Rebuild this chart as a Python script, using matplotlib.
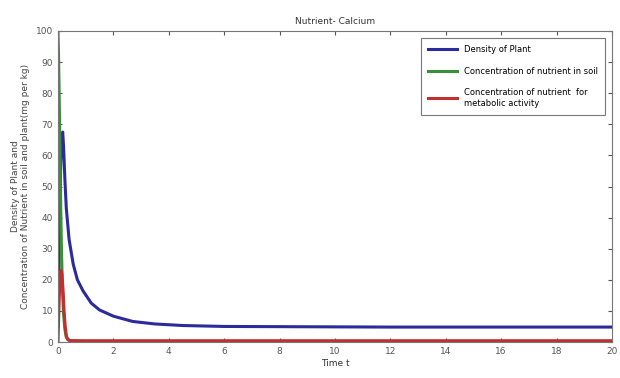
import matplotlib
matplotlib.use("Agg")
import matplotlib.pyplot as plt

# Density of plant
t_plant = [0, 0.03, 0.06, 0.1, 0.14, 0.17, 0.2, 0.25, 0.3, 0.4, 0.55, 0.7, 0.9, 1.2, 1.5, 2.0, 2.7, 3.5, 4.5, 6, 9, 12, 16, 20]
plant = [5, 22, 40, 58, 66, 67.5, 63, 52, 43, 33, 25, 20, 16.5, 12.5, 10.3, 8.3, 6.6, 5.8, 5.3, 5.0, 4.9, 4.8, 4.8, 4.8]

# Concentration of nutrient in soil
t_soil = [0, 0.02, 0.05, 0.08, 0.1, 0.13, 0.16, 0.2, 0.25, 0.3, 0.4, 1, 20]
soil = [100, 92, 75, 55, 42, 28, 17, 9, 4, 1.5, 0.5, 0.2, 0.2]

# Concentration of nutrient for metabolic activity
t_met = [0, 0.03, 0.06, 0.1, 0.14, 0.18, 0.22, 0.26, 0.3, 0.35, 0.45, 1, 20]
met = [0, 10, 18, 23, 22, 17, 10, 5, 2, 0.8, 0.4, 0.4, 0.4]

labels = ["Density of Plant", "Concentration of nutrient in soil",
          "Concentration of nutrient  for\nmetabolic activity"]
xticks = list(range(0, 21, 2))
yticks = list(range(0, 101, 10))

fig = plt.figure(figsize=(6.2, 3.78), dpi=100)
ax = fig.add_axes([58/620, 1-342/378, (612-58)/620, (342-31)/378])

ax.plot(t_plant, plant, color="#2b2b9c", lw=2.2, label=labels[0])
ax.plot(t_soil, soil, color="#3a8f3a", lw=2.2, label=labels[1])
ax.plot(t_met, met, color="#c0302e", lw=2.2, label=labels[2])

ax.set_xlim(0, 20)
ax.set_ylim(0, 100)
ax.set_xticks(xticks)
ax.set_yticks(yticks)
ax.tick_params(direction="in", top=True, right=True, labelsize=6.5, length=3, colors="#555555")
for s in ax.spines.values():
    s.set_color("#777777")
ax.set_title("Nutrient- Calcium", fontsize=6.5, color="#333333", pad=5)
ax.set_xlabel("Time t", fontsize=6.5, color="#333333", labelpad=2)
ax.set_ylabel("Density of Plant and\nConcentration of Nutrient in soil and plant(mg per kg)",
              fontsize=6.5, color="#444444", labelpad=4)
leg = ax.legend(loc="upper right", fontsize=6, frameon=True, fancybox=False,
                edgecolor="#555555", handlelength=3.5, borderaxespad=0.8,
                labelspacing=1.5, borderpad=0.9)
leg.get_frame().set_linewidth(0.8)

fig.savefig("out.png", dpi=100)
